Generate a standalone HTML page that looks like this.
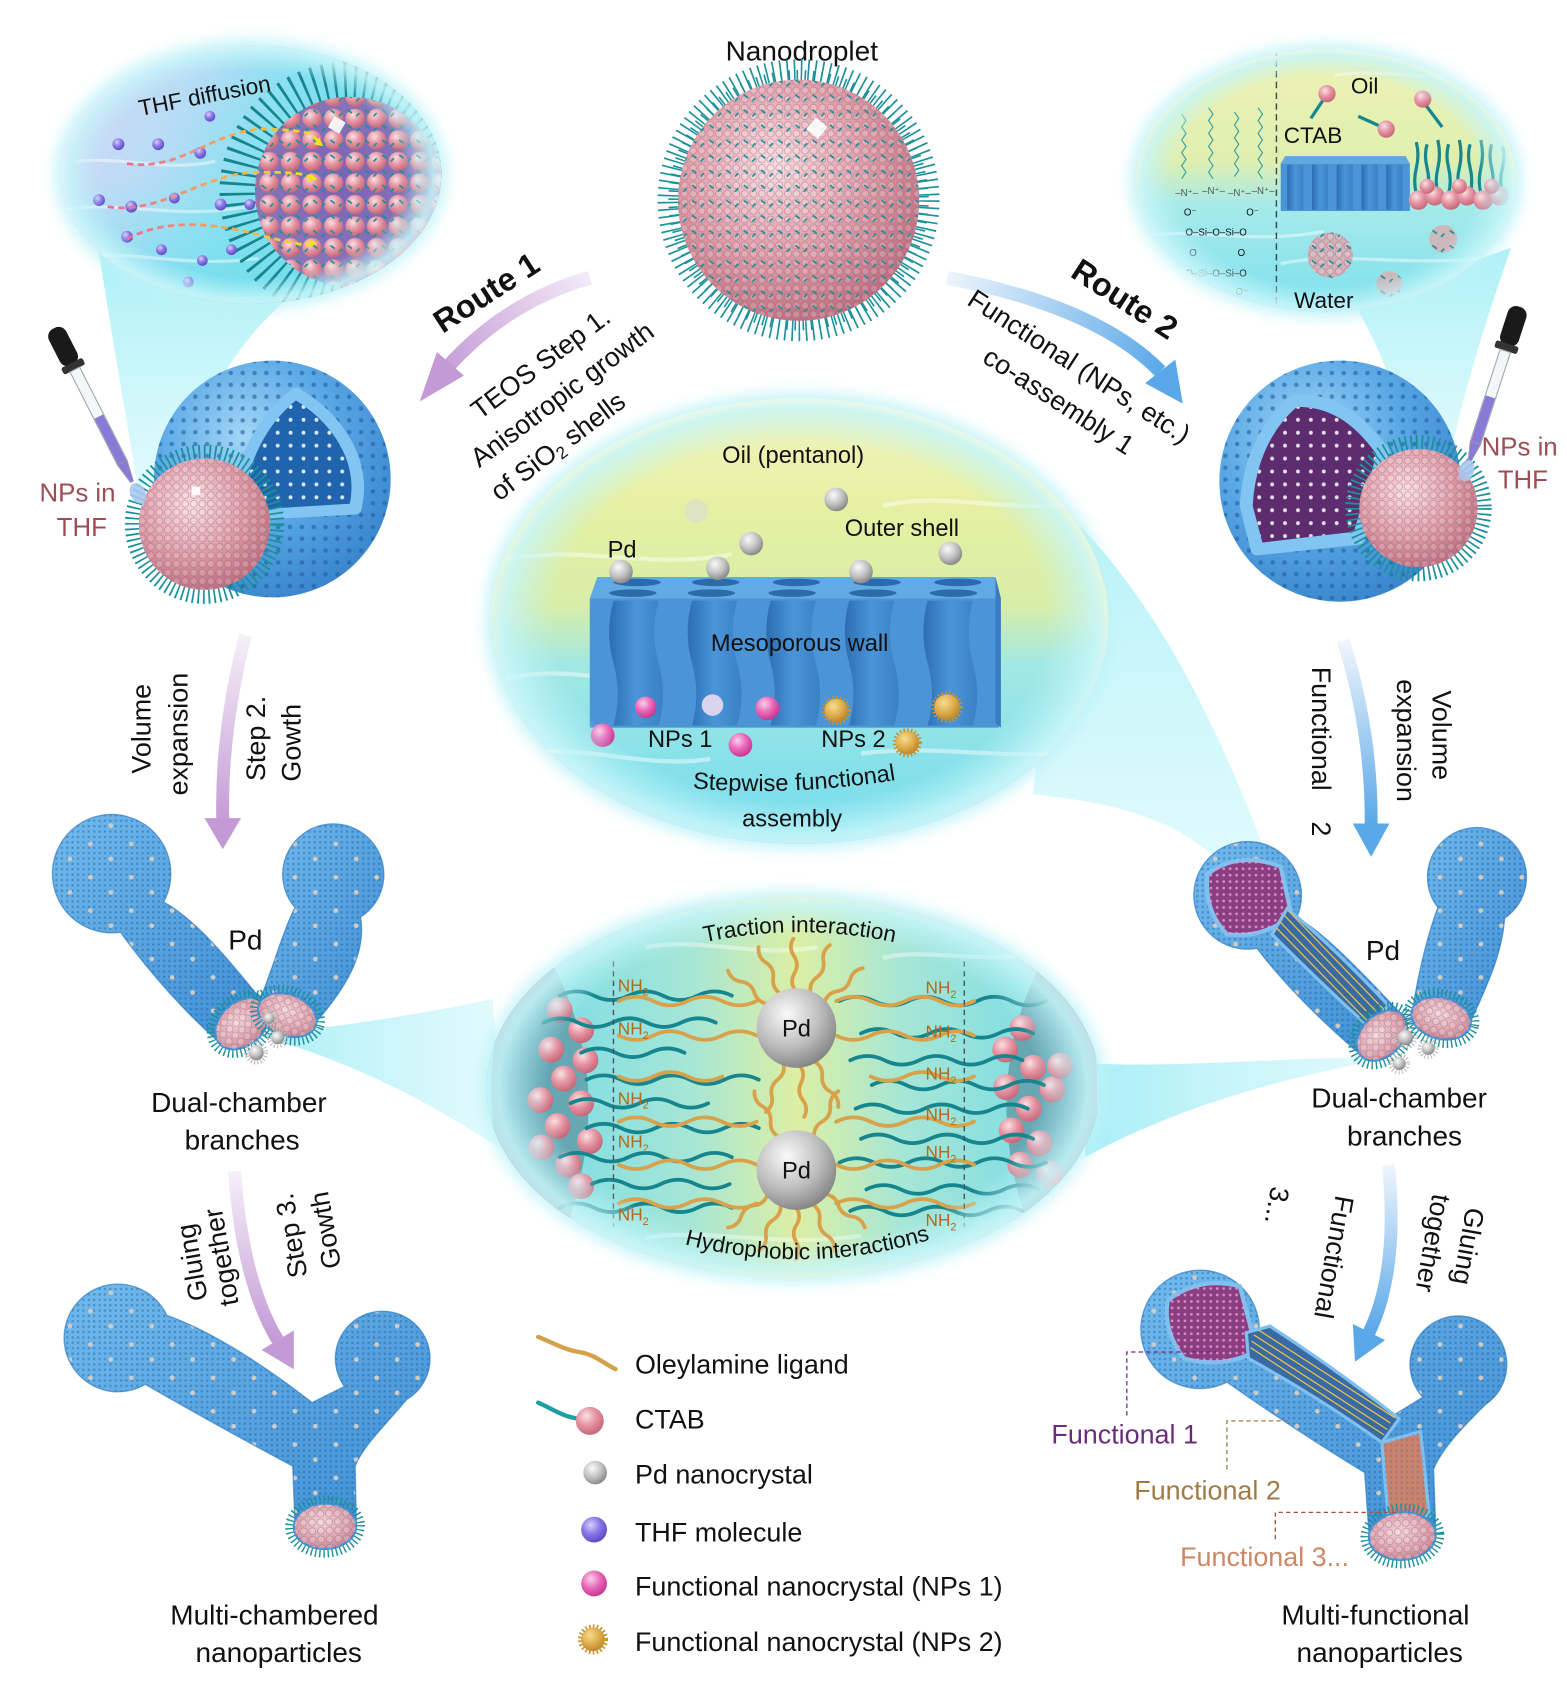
<!DOCTYPE html>
<html><head><meta charset="utf-8">
<style>
html,body{margin:0;padding:0;background:#fff;}
svg{display:block;}
text{font-family:"Liberation Sans",Arial,sans-serif;fill:#111;}
</style></head><body>
<svg width="1567" height="1690" viewBox="0 0 1456 1570" preserveAspectRatio="none" xmlns="http://www.w3.org/2000/svg">
<defs>
  <radialGradient id="pinkG" cx="0.4" cy="0.35" r="0.7">
    <stop offset="0" stop-color="#f6dde1"/><stop offset="0.55" stop-color="#dc9ca8"/><stop offset="1" stop-color="#b86b7c"/>
  </radialGradient>
  <radialGradient id="capG" cx="0.45" cy="0.4" r="0.7">
    <stop offset="0" stop-color="#f0d4da"/><stop offset="0.6" stop-color="#d9a2ae"/><stop offset="1" stop-color="#b97c8a"/>
  </radialGradient>
  <pattern id="pinkTex" width="8" height="8" patternUnits="userSpaceOnUse">
    <circle cx="4" cy="4" r="3.2" fill="#ffffff" fill-opacity="0.18" stroke="#a5566a" stroke-opacity="0.45" stroke-width="0.8"/>
  </pattern>
  <pattern id="tealSpeck" width="16" height="14" patternUnits="userSpaceOnUse">
    <path d="M3 4 l4 3 M11 10 l3 -3" stroke="#1f8f95" stroke-width="1.6" fill="none"/>
  </pattern>
  <radialGradient id="blueG" cx="0.38" cy="0.32" r="0.75">
    <stop offset="0" stop-color="#a2d6f6"/><stop offset="0.5" stop-color="#5aa8e6"/><stop offset="1" stop-color="#3782cb"/>
  </radialGradient>
  <linearGradient id="blueL" x1="0" y1="0" x2="1" y2="1">
    <stop offset="0" stop-color="#72baee"/><stop offset="1" stop-color="#3f8ed4"/>
  </linearGradient>
  <pattern id="pores" width="11" height="11" patternUnits="userSpaceOnUse">
    <circle cx="5.5" cy="5.5" r="2.1" fill="#1e5d9c" fill-opacity="0.6"/>
  </pattern>
  <pattern id="whitePores" width="12" height="12" patternUnits="userSpaceOnUse">
    <circle cx="6" cy="6" r="1.8" fill="#ffffff"/>
  </pattern>
  <pattern id="pinkPores" width="6" height="6" patternUnits="userSpaceOnUse">
    <circle cx="3" cy="3" r="1.3" fill="#e6a0d0" fill-opacity="0.8"/>
  </pattern>
  <pattern id="mesh" width="5" height="5" patternUnits="userSpaceOnUse">
    <rect x="1.5" y="1.5" width="2" height="2" fill="#1b568f" fill-opacity="0.45"/>
  </pattern>
  <pattern id="gdots" width="38" height="31" patternUnits="userSpaceOnUse">
    <circle cx="8" cy="9" r="2.2" fill="#d3cbc2"/><circle cx="27" cy="23" r="2.2" fill="#d3cbc2"/>
  </pattern>
  <pattern id="pballs" width="20" height="20" patternUnits="userSpaceOnUse">
    <circle cx="10" cy="10" r="9" fill="url(#ctabG)"/>
  </pattern>
  <radialGradient id="greyG" cx="0.38" cy="0.32" r="0.7">
    <stop offset="0" stop-color="#fafafa"/><stop offset="0.6" stop-color="#bdbdbd"/><stop offset="1" stop-color="#868686"/>
  </radialGradient>
  <radialGradient id="magG" cx="0.38" cy="0.32" r="0.7">
    <stop offset="0" stop-color="#fbd0ea"/><stop offset="0.5" stop-color="#ea6cbc"/><stop offset="1" stop-color="#c7348f"/>
  </radialGradient>
  <radialGradient id="purG" cx="0.38" cy="0.32" r="0.7">
    <stop offset="0" stop-color="#d8d0fb"/><stop offset="0.5" stop-color="#8a78e6"/><stop offset="1" stop-color="#5c48c4"/>
  </radialGradient>
  <radialGradient id="goldG" cx="0.38" cy="0.32" r="0.7">
    <stop offset="0" stop-color="#f6dc90"/><stop offset="0.6" stop-color="#dcaa48"/><stop offset="1" stop-color="#b8862c"/>
  </radialGradient>
  <radialGradient id="ctabG" cx="0.38" cy="0.32" r="0.7">
    <stop offset="0" stop-color="#fbe0e4"/><stop offset="0.5" stop-color="#e594a2"/><stop offset="1" stop-color="#c46778"/>
  </radialGradient>
  <radialGradient id="coreG" cx="0.45" cy="0.45" r="0.6">
    <stop offset="0" stop-color="#7a62b8"/><stop offset="1" stop-color="#8c7bb6"/>
  </radialGradient>
  <linearGradient id="tlG" x1="0" y1="0" x2="1" y2="0.3">
    <stop offset="0" stop-color="#dcd6f6"/><stop offset="0.35" stop-color="#b8dcf5"/><stop offset="0.6" stop-color="#86e0f0"/><stop offset="1" stop-color="#62d6ea"/>
  </linearGradient>
  <linearGradient id="cyanBottom" x1="0" y1="0" x2="0" y2="1">
    <stop offset="0.5" stop-color="#7fe3f0" stop-opacity="0"/><stop offset="1" stop-color="#6fdcec" stop-opacity="0.8"/>
  </linearGradient>
  <linearGradient id="trG" x1="0" y1="0" x2="0" y2="1">
    <stop offset="0" stop-color="#eef2b6"/><stop offset="0.42" stop-color="#e0efae"/><stop offset="0.58" stop-color="#a6eaea"/><stop offset="1" stop-color="#7adfee"/>
  </linearGradient>
  <linearGradient id="midG" x1="0" y1="0" x2="0" y2="1">
    <stop offset="0" stop-color="#f2f5c4"/><stop offset="0.25" stop-color="#e6f0a2"/><stop offset="0.47" stop-color="#d8eea8"/><stop offset="0.6" stop-color="#a2e8e4"/><stop offset="1" stop-color="#72dbee"/>
  </linearGradient>
  <linearGradient id="botG" x1="0" y1="0" x2="1" y2="0">
    <stop offset="0" stop-color="#6cd8ea"/><stop offset="0.33" stop-color="#a6e6d6"/><stop offset="0.5" stop-color="#dcefa4"/><stop offset="0.67" stop-color="#a6e6d6"/><stop offset="1" stop-color="#6cd8ea"/>
  </linearGradient>
  <radialGradient id="rim" cx="0.5" cy="0.5" r="0.5">
    <stop offset="0.8" stop-color="#bff3f8" stop-opacity="0"/>
    <stop offset="0.96" stop-color="#c8f6fa" stop-opacity="0.85"/>
    <stop offset="1" stop-color="#e6fbfd" stop-opacity="0.7"/>
  </radialGradient>
  <linearGradient id="coneG" x1="0" y1="0" x2="0" y2="1">
    <stop offset="0" stop-color="#9eeef6" stop-opacity="0.85"/><stop offset="1" stop-color="#c8f6fa" stop-opacity="0.55"/>
  </linearGradient>
  <linearGradient id="bandG" x1="0" y1="0" x2="1" y2="0">
    <stop offset="0" stop-color="#8fe9f4" stop-opacity="0.9"/><stop offset="1" stop-color="#c8f6fa" stop-opacity="0.6"/>
  </linearGradient>
  <linearGradient id="chanG" x1="0" y1="0" x2="1" y2="0">
    <stop offset="0" stop-color="#2d6db2"/><stop offset="0.5" stop-color="#4a95d8"/><stop offset="1" stop-color="#3a80c4"/>
  </linearGradient>
  <linearGradient id="r1G" gradientUnits="userSpaceOnUse" x1="550" y1="255" x2="410" y2="350">
    <stop offset="0" stop-color="#f4ecf8"/><stop offset="1" stop-color="#c49ad6"/>
  </linearGradient>
  <linearGradient id="r2G" gradientUnits="userSpaceOnUse" x1="880" y1="255" x2="1080" y2="345">
    <stop offset="0" stop-color="#eef5fc"/><stop offset="1" stop-color="#5aa8e8"/>
  </linearGradient>
  <linearGradient id="s2G" gradientUnits="userSpaceOnUse" x1="0" y1="590" x2="0" y2="765">
    <stop offset="0" stop-color="#f6f0f8"/><stop offset="1" stop-color="#c49ad6"/>
  </linearGradient>
  <linearGradient id="s2RG" gradientUnits="userSpaceOnUse" x1="0" y1="595" x2="0" y2="765">
    <stop offset="0" stop-color="#f0f6fc"/><stop offset="1" stop-color="#5aa8e8"/>
  </linearGradient>
  <linearGradient id="s3G" gradientUnits="userSpaceOnUse" x1="0" y1="1088" x2="0" y2="1245">
    <stop offset="0" stop-color="#f6f0f8"/><stop offset="1" stop-color="#c49ad6"/>
  </linearGradient>
  <linearGradient id="s3RG" gradientUnits="userSpaceOnUse" x1="0" y1="1082" x2="0" y2="1238">
    <stop offset="0" stop-color="#f0f6fc"/><stop offset="1" stop-color="#5aa8e8"/>
  </linearGradient>
  <linearGradient id="dashG" x1="0" y1="0" x2="1" y2="0">
    <stop offset="0" stop-color="#f06a9a"/><stop offset="1" stop-color="#f2e020"/>
  </linearGradient>
  <marker id="ya" markerWidth="8" markerHeight="8" refX="5" refY="4" orient="auto" markerUnits="userSpaceOnUse">
    <path d="M0 0 L8 4 L0 8 Z" fill="#f5e21a"/>
  </marker>
  <filter id="blur6" x="-20%" y="-20%" width="140%" height="140%"><feGaussianBlur stdDeviation="6"/></filter>
  <path id="lig" d="M35 0 q8 -5 16 0 t16 0 t16 0" fill="none" stroke="#d9a24a" stroke-width="3.5" stroke-linecap="round"/>

  <path id="pA" d="M152 838 C178 852 205 882 242 928 L200 965 C172 940 140 905 112 866 A55 55 0 1 1 152 838 Z"/>
  <path id="pB" d="M335 852 C340 882 326 912 295 948 L242 928 C255 895 262 868 274 843 A47 47 0 1 1 335 852 Z"/>
  <path id="pY" d="M155 1222 C200 1238 250 1272 290 1303 L320 1288 A44 44 0 1 1 378 1300 C360 1322 338 1342 330 1362 L331 1412 L274 1414 L272 1362 C240 1345 180 1312 135 1286 A50 50 0 1 1 155 1222 Z"/>
  <path id="pRA" d="M1205 852 C1232 868 1266 904 1300 940 L1262 978 C1232 952 1196 918 1168 881 A50 50 0 1 1 1205 852 Z"/>
  <path id="pRB" d="M1398 853 C1396 885 1382 915 1367 948 L1313 935 C1318 905 1326 870 1336 843 A46 46 0 1 1 1398 853 Z"/>
  <path id="pRY" d="M1165 1258 C1200 1275 1250 1305 1283 1322 L1322 1298 A45 45 0 1 1 1380 1305 C1360 1325 1340 1345 1332 1365 L1334 1420 L1272 1424 L1268 1368 C1230 1345 1180 1312 1140 1284 A55 55 0 1 1 1165 1258 Z"/>

  <ellipse id="cA" cx="0" cy="0" rx="28" ry="20"/>
  <clipPath id="tlClip"><ellipse cx="233" cy="162" rx="177" ry="120"/></clipPath>
  <clipPath id="trClip"><ellipse cx="1232" cy="168" rx="177" ry="122"/></clipPath>
  <clipPath id="midClip"><ellipse cx="743" cy="577" rx="287" ry="207"/></clipPath>
  <clipPath id="botClip"><ellipse cx="737" cy="1010" rx="285" ry="177"/></clipPath>
  <clipPath id="tlDrop"><circle cx="325" cy="178" r="88"/></clipPath>
</defs>

<rect width="1456" height="1570" fill="#ffffff"/>

<!-- ============ FUNNELS / CONES ============ -->
<path d="M92 235 C105 320 118 390 128 455 L172 432 C192 360 232 300 288 262 Z" fill="url(#coneG)"/>
<path d="M1258 282 C1288 332 1304 382 1310 432 L1346 432 C1360 362 1380 300 1404 230 Z" fill="url(#coneG)"/>
<path d="M985 470 C1080 560 1140 690 1192 836 L1168 842 C1120 770 1060 748 960 738 Z" fill="url(#coneG)" opacity="0.9"/>
<path d="M458 928 C380 945 300 955 240 962 C300 978 380 1010 466 1068 Z" fill="url(#bandG)" opacity="0.85"/>
<path d="M1012 988 C1100 992 1200 982 1294 982 C1200 1000 1100 1025 1008 1075 Z" fill="url(#bandG)" opacity="0.85"/>

<!-- ============ TOP-LEFT BUBBLE ============ -->
<ellipse cx="233" cy="162" rx="183" ry="126" fill="#bff3f8" filter="url(#blur6)" opacity="0.8"/>
<g clip-path="url(#tlClip)">
  <rect x="50" y="40" width="370" height="250" fill="url(#tlG)"/>
  <rect x="50" y="40" width="370" height="250" fill="url(#cyanBottom)"/>
  <g stroke="#ffffff" stroke-opacity="0.45" stroke-width="3" fill="none">
    <path d="M60 195 C110 185 160 205 230 192"/>
    <path d="M60 240 C120 230 170 250 240 240"/>
    <path d="M70 150 C120 145 150 160 200 150"/>
  </g>
  <circle cx="325" cy="178" r="104" fill="none" stroke="#17858d" stroke-width="34" stroke-dasharray="2.5 7"/>
  <circle cx="325" cy="178" r="88" fill="url(#coreG)"/>
  <g clip-path="url(#tlDrop)">
    <rect x="235" y="88" width="180" height="180" fill="url(#pballs)"/>
    <rect x="235" y="88" width="180" height="180" fill="url(#tealSpeck)"/>
  </g>
  <rect x="307" y="110" width="12" height="12" fill="#fff" transform="rotate(30 313 116)" opacity="0.9"/>
  <g>
    <circle cx="110" cy="134" r="5.5" fill="url(#purG)"/><circle cx="147" cy="134" r="5.5" fill="url(#purG)"/>
    <circle cx="186" cy="142" r="5.5" fill="url(#purG)"/><circle cx="92" cy="186" r="5.5" fill="url(#purG)"/>
    <circle cx="122" cy="192" r="5.5" fill="url(#purG)"/><circle cx="162" cy="184" r="5" fill="url(#purG)"/>
    <circle cx="205" cy="190" r="5.5" fill="url(#purG)"/><circle cx="232" cy="190" r="5" fill="url(#purG)"/>
    <circle cx="118" cy="220" r="5.5" fill="url(#purG)"/><circle cx="150" cy="232" r="5" fill="url(#purG)"/>
    <circle cx="188" cy="242" r="5" fill="url(#purG)"/><circle cx="215" cy="232" r="5" fill="url(#purG)"/>
    <circle cx="175" cy="262" r="5" fill="url(#purG)"/><circle cx="195" cy="108" r="5" fill="url(#purG)"/>
  </g>
  <g fill="none" stroke="url(#dashG)" stroke-width="2.6" stroke-dasharray="6 4" marker-end="url(#ya)">
    <path d="M118 152 C170 160 200 118 250 120 S288 126 298 134"/>
    <path d="M100 192 C150 200 190 160 240 160 S280 163 292 166"/>
    <path d="M118 222 C150 205 190 205 240 218 S280 226 292 226"/>
  </g>
  <ellipse cx="233" cy="162" rx="177" ry="120" fill="url(#rim)"/>
</g>
<text transform="translate(190,89) rotate(-11)" text-anchor="middle" y="7" font-size="21">THF diffusion</text>

<!-- ============ TOP-RIGHT BUBBLE ============ -->
<ellipse cx="1232" cy="168" rx="183" ry="128" fill="#bff3f8" filter="url(#blur6)" opacity="0.8"/>
<g clip-path="url(#trClip)">
  <rect x="1050" y="40" width="370" height="260" fill="url(#trG)"/>
  <g stroke="#ffffff" stroke-opacity="0.45" stroke-width="3" fill="none">
    <path d="M1060 220 C1110 210 1160 228 1230 215"/>
    <path d="M1190 245 C1250 232 1300 250 1400 238"/>
    <path d="M1240 70 C1290 62 1330 78 1390 70"/>
  </g>
  <g stroke="#3aa0a8" stroke-width="1.1" fill="none">
    <path d="M1098 106 l4 6 l-4 6 l4 6 l-4 6 l4 6 l-4 6 l4 6 l-4 6 l4 6 l-4 6"/>
    <path d="M1123 100 l4 6 l-4 6 l4 6 l-4 6 l4 6 l-4 6 l4 6 l-4 6 l4 6 l-4 6 l4 6"/>
    <path d="M1147 104 l4 6 l-4 6 l4 6 l-4 6 l4 6 l-4 6 l4 6 l-4 6 l4 6 l-4 6"/>
    <path d="M1169 100 l4 6 l-4 6 l4 6 l-4 6 l4 6 l-4 6 l4 6 l-4 6 l4 6 l-4 6 l4 6"/>
  </g>
  <g font-size="9" fill="#333">
    <text x="1092" y="182" style="fill:#555">–N⁺–</text><text x="1117" y="180" style="fill:#555">–N⁺–</text>
    <text x="1141" y="182" style="fill:#555">–N⁺–</text><text x="1163" y="180" style="fill:#555">–N⁺–</text>
    <text x="1100" y="200">O⁻</text><text x="1158" y="200">O⁻</text>
    <text x="1130" y="219" text-anchor="middle">O–Si–O–Si–O</text>
    <text x="1105" y="238">O</text><text x="1150" y="238">O</text>
    <text x="1130" y="257" text-anchor="middle">O–Si–O–Si–O</text>
    <text x="1103" y="274">O⁻</text><text x="1148" y="274">O⁻</text>
  </g>
  <line x1="1186" y1="46" x2="1186" y2="300" stroke="#3a4450" stroke-width="1.3" stroke-dasharray="6 4"/>
  <path d="M1190 152 L1194 145 L1306 145 L1310 152 Z" fill="#5fa8e2"/>
  <rect x="1190" y="152" width="120" height="44" fill="#4b94d6"/>
  <g fill="url(#chanG)">
    <rect x="1196" y="153" width="15" height="42"/><rect x="1219" y="153" width="15" height="42"/>
    <rect x="1242" y="153" width="15" height="42"/><rect x="1265" y="153" width="15" height="42"/>
    <rect x="1288" y="153" width="15" height="42"/>
  </g>
  <g stroke="#17878f" stroke-width="3" fill="none">
    <path d="M1316 180 q-3 -12 0 -24 t0 -24"/><path d="M1326 180 q3 -12 0 -24 t0 -22"/>
    <path d="M1336 180 q-3 -12 0 -24 t0 -26"/><path d="M1346 180 q3 -12 0 -24 t0 -22"/>
    <path d="M1356 180 q-3 -12 0 -24 t0 -26"/><path d="M1366 180 q3 -12 0 -24 t0 -22"/>
    <path d="M1376 180 q-3 -12 0 -24 t0 -26"/><path d="M1386 180 q3 -12 0 -24 t0 -22"/>
    <path d="M1396 180 q-3 -12 0 -24 t0 -20"/>
  </g>
  <g>
    <circle cx="1318" cy="186" r="9" fill="url(#ctabG)"/><circle cx="1333" cy="182" r="9" fill="url(#ctabG)"/>
    <circle cx="1348" cy="186" r="9" fill="url(#ctabG)"/><circle cx="1363" cy="182" r="9" fill="url(#ctabG)"/>
    <circle cx="1378" cy="186" r="9" fill="url(#ctabG)"/><circle cx="1393" cy="182" r="9" fill="url(#ctabG)"/>
    <circle cx="1326" cy="173" r="7" fill="url(#ctabG)"/><circle cx="1356" cy="173" r="7" fill="url(#ctabG)"/><circle cx="1386" cy="173" r="7" fill="url(#ctabG)"/>
  </g>
  <g stroke="#17878f" stroke-width="3" fill="none">
    <path d="M1218 110 L1230 92"/><path d="M1262 108 L1284 118"/><path d="M1325 98 L1340 118"/>
  </g>
  <circle cx="1233" cy="87" r="8" fill="url(#ctabG)"/><circle cx="1288" cy="120" r="8" fill="url(#ctabG)"/><circle cx="1322" cy="92" r="8" fill="url(#ctabG)"/>
  <g>
    <circle cx="1236" cy="237" r="21" fill="#d0b2ba"/><circle cx="1236" cy="237" r="21" fill="url(#pinkTex)"/><circle cx="1236" cy="237" r="21" fill="url(#tealSpeck)"/>
    <circle cx="1341" cy="222" r="13" fill="#cdb8bc"/><circle cx="1341" cy="222" r="13" fill="url(#tealSpeck)"/>
    <circle cx="1291" cy="264" r="12" fill="#cdb8bc"/><circle cx="1291" cy="264" r="12" fill="url(#tealSpeck)"/>
  </g>
  <ellipse cx="1232" cy="168" rx="177" ry="122" fill="url(#rim)"/>
</g>
<text x="1268" y="87" font-size="21" text-anchor="middle">Oil</text>
<text x="1220" y="133" font-size="21" text-anchor="middle">CTAB</text>
<text x="1230" y="286" font-size="21" text-anchor="middle">Water</text>

<!-- ============ NANODROPLET ============ -->
<text x="745" y="56" font-size="26" text-anchor="middle">Nanodroplet</text>
<circle cx="742" cy="186" r="121" fill="none" stroke="#1c9199" stroke-width="20" stroke-dasharray="1.5 5"/>
<circle cx="742" cy="186" r="116" fill="none" stroke="#1c9199" stroke-width="10" stroke-dasharray="1.5 6" stroke-dashoffset="3"/>
<circle cx="742" cy="186" r="112" fill="url(#pinkG)"/>
<circle cx="742" cy="186" r="112" fill="url(#pinkTex)"/>
<circle cx="742" cy="186" r="112" fill="url(#tealSpeck)"/>
<rect x="752" y="112" width="14" height="14" fill="#ffffff" opacity="0.9" transform="rotate(40 759 119)"/>

<!-- ============ LEFT SPHERE ============ -->
<circle cx="253" cy="445" r="110" fill="url(#blueG)"/>
<circle cx="253" cy="445" r="110" fill="url(#pores)"/>
<path d="M275 366 C245 390 225 425 218 478 L330 472 C340 430 315 390 275 366 Z" fill="#82c4f2" stroke="#82c4f2" stroke-width="12" stroke-linejoin="round"/>
<path d="M275 372 C248 394 230 428 224 474 L325 468 C333 430 310 394 275 372 Z" fill="#1f64ac"/>
<path d="M275 372 C248 394 230 428 224 474 L325 468 C333 430 310 394 275 372 Z" fill="url(#whitePores)" opacity="0.85"/>
<circle cx="190" cy="487" r="67" fill="none" stroke="#1c9199" stroke-width="14" stroke-dasharray="1.6 3.4"/>
<circle cx="190" cy="487" r="61" fill="url(#pinkG)"/>
<circle cx="190" cy="487" r="61" fill="url(#pinkTex)"/>
<rect x="178" y="452" width="8" height="8" fill="#fff" opacity="0.9"/>
<g transform="translate(50,305) rotate(-27)">
  <rect x="-9" y="0" width="18" height="38" rx="8" fill="#1a1a1a"/>
  <rect x="-11" y="36" width="22" height="7" rx="2" fill="#333"/>
  <rect x="-5" y="43" width="10" height="97" fill="#f4f6f8" stroke="#9aa" stroke-width="1"/>
  <rect x="-4.5" y="92" width="9" height="48" fill="#8a7ad8"/>
  <path d="M-5 140 L5 140 L1.5 160 L-1.5 160 Z" fill="#8a7ad8" stroke="#99a" stroke-width="0.8"/>
  <ellipse cx="0" cy="172" rx="7" ry="10" fill="#a9c8f0" opacity="0.9"/>
</g>
<text x="72" y="466" font-size="24" text-anchor="middle" style="fill:#9b4f55">NPs in</text>
<text x="76" y="498" font-size="24" text-anchor="middle" style="fill:#9b4f55">THF</text>

<!-- ============ RIGHT SPHERE ============ -->
<circle cx="1245" cy="447" r="112" fill="url(#blueG)"/>
<circle cx="1245" cy="447" r="112" fill="url(#pores)"/>
<path d="M1205 372 C1175 395 1160 430 1158 470 L1168 510 L1262 500 L1285 420 C1260 385 1235 372 1205 372 Z" fill="#82c4f2" stroke="#82c4f2" stroke-width="12" stroke-linejoin="round"/>
<path d="M1205 378 C1180 400 1166 432 1164 470 L1173 504 L1258 494 L1279 422 C1256 390 1233 378 1205 378 Z" fill="#5c2c6e"/>
<path d="M1205 378 C1180 400 1166 432 1164 470 L1173 504 L1258 494 L1279 422 C1256 390 1233 378 1205 378 Z" fill="url(#whitePores)" opacity="0.85"/>
<circle cx="1318" cy="472" r="61" fill="none" stroke="#1c9199" stroke-width="14" stroke-dasharray="1.6 3.4"/>
<circle cx="1318" cy="472" r="55" fill="url(#pinkG)"/>
<circle cx="1318" cy="472" r="55" fill="url(#pinkTex)"/>
<g transform="translate(1412,285) rotate(18)">
  <rect x="-9" y="0" width="18" height="38" rx="8" fill="#1a1a1a"/>
  <rect x="-11" y="36" width="22" height="7" rx="2" fill="#333"/>
  <rect x="-5" y="43" width="10" height="90" fill="#f4f6f8" stroke="#9aa" stroke-width="1"/>
  <rect x="-4.5" y="88" width="9" height="45" fill="#8a7ad8"/>
  <path d="M-5 133 L5 133 L1.5 150 L-1.5 150 Z" fill="#8a7ad8" stroke="#99a" stroke-width="0.8"/>
  <ellipse cx="0" cy="160" rx="7" ry="10" fill="#a9c8f0" opacity="0.9"/>
</g>
<text x="1412" y="423" font-size="24" text-anchor="middle" style="fill:#9b4f55">NPs in</text>
<text x="1415" y="454" font-size="24" text-anchor="middle" style="fill:#9b4f55">THF</text>

<!-- ============ MIDDLE OVAL ============ -->
<ellipse cx="743" cy="577" rx="293" ry="213" fill="#bff3f8" filter="url(#blur6)" opacity="0.8"/>
<g clip-path="url(#midClip)">
  <rect x="450" y="365" width="590" height="420" fill="url(#midG)"/>
  <g stroke="#ffffff" stroke-opacity="0.45" stroke-width="4" fill="none">
    <path d="M470 520 C540 505 600 530 680 515"/>
    <path d="M820 470 C880 455 940 480 1010 465"/>
    <path d="M470 630 C540 615 600 645 680 630"/>
    <path d="M800 700 C880 690 940 710 1020 695"/>
    <path d="M480 700 C540 690 600 715 660 705"/>
  </g>
  <path d="M548 556 L555 536 L925 536 L930 556 Z" fill="#62aae3"/>
  <g fill="#2c6aa8">
    <ellipse cx="592" cy="541" rx="22" ry="3.5"/><ellipse cx="665" cy="541" rx="22" ry="3.5"/><ellipse cx="740" cy="541" rx="22" ry="3.5"/><ellipse cx="815" cy="541" rx="22" ry="3.5"/><ellipse cx="890" cy="541" rx="22" ry="3.5"/>
    <ellipse cx="588" cy="551" rx="22" ry="3.5"/><ellipse cx="661" cy="551" rx="22" ry="3.5"/><ellipse cx="736" cy="551" rx="22" ry="3.5"/><ellipse cx="811" cy="551" rx="22" ry="3.5"/><ellipse cx="886" cy="551" rx="22" ry="3.5"/>
  </g>
  <rect x="548" y="556" width="380" height="120" fill="#4b94d6"/>
  <path d="M925 536 L930 556 L930 676 L925 672 Z" fill="#3a7cc0"/>
  <g fill="url(#chanG)">
    <path d="M570 558 Q562 587 570 616 T570 674 L612 674 Q620 645 612 616 T612 558 Z"/>
    <path d="M643 558 Q635 587 643 616 T643 674 L685 674 Q693 645 685 616 T685 558 Z"/>
    <path d="M716 558 Q708 587 716 616 T716 674 L758 674 Q766 645 758 616 T758 558 Z"/>
    <path d="M789 558 Q781 587 789 616 T789 674 L831 674 Q839 645 831 616 T831 558 Z"/>
    <path d="M862 558 Q854 587 862 616 T862 674 L904 674 Q912 645 904 616 T904 558 Z"/>
  </g>
  <circle cx="647" cy="475" r="11" fill="#dfe4c0"/>
  <circle cx="577" cy="531" r="11" fill="url(#greyG)"/><circle cx="667" cy="528" r="11" fill="url(#greyG)"/>
  <circle cx="698" cy="505" r="11" fill="url(#greyG)"/><circle cx="777" cy="464" r="11" fill="url(#greyG)"/>
  <circle cx="800" cy="531" r="11" fill="url(#greyG)"/><circle cx="883" cy="514" r="11" fill="url(#greyG)"/>
  <circle cx="600" cy="657" r="10" fill="url(#magG)"/><circle cx="560" cy="683" r="11" fill="url(#magG)"/>
  <circle cx="688" cy="692" r="11" fill="url(#magG)"/><circle cx="713" cy="658" r="11" fill="url(#magG)"/>
  <circle cx="662" cy="655" r="10" fill="#d8d4ee"/>
  <circle cx="777" cy="660" r="11" fill="url(#goldG)"/><circle cx="777" cy="660" r="12" fill="none" stroke="#c8922e" stroke-width="3" stroke-dasharray="1.5 2"/>
  <circle cx="880" cy="657" r="12" fill="url(#goldG)"/><circle cx="880" cy="657" r="13" fill="none" stroke="#c8922e" stroke-width="3" stroke-dasharray="1.5 2"/>
  <circle cx="843" cy="690" r="11" fill="url(#goldG)"/><circle cx="843" cy="690" r="12" fill="none" stroke="#c8922e" stroke-width="3" stroke-dasharray="1.5 2"/>
  <ellipse cx="743" cy="577" rx="287" ry="207" fill="url(#rim)"/>
</g>
<g font-size="22">
  <text x="737" y="430" text-anchor="middle">Oil (pentanol)</text>
  <text x="578" y="518" text-anchor="middle">Pd</text>
  <text x="838" y="498" text-anchor="middle">Outer shell</text>
  <text x="743" y="605" text-anchor="middle">Mesoporous wall</text>
  <text x="632" y="694" text-anchor="middle">NPs 1</text>
  <text x="793" y="694" text-anchor="middle">NPs 2</text>
  <path id="swPath" d="M628 731 Q736 742 848 722" fill="none"/>
  <text><textPath href="#swPath" startOffset="50%" text-anchor="middle">Stepwise functional</textPath></text>
  <text x="736" y="768" text-anchor="middle">assembly</text>
</g>

<!-- ============ BOTTOM OVAL ============ -->
<ellipse cx="737" cy="1010" rx="291" ry="183" fill="#bff3f8" filter="url(#blur6)" opacity="0.8"/>
<g clip-path="url(#botClip)">
  <rect x="450" y="830" width="580" height="360" fill="url(#botG)"/>
  <g stroke="#ffffff" stroke-opacity="0.4" stroke-width="4" fill="none">
    <path d="M600 880 C650 870 700 890 760 880"/>
    <path d="M600 1150 C660 1140 720 1160 800 1148"/>
    <path d="M820 890 C860 880 900 895 960 886"/>
  </g>
  <path d="M505 880 C545 950 565 1030 525 1145 L470 1110 C452 1040 452 980 470 925 Z" fill="#4f7a8c" opacity="0.55"/>
  <path d="M975 880 C935 950 918 1040 958 1145 L1008 1105 C1024 1040 1024 980 1006 925 Z" fill="#4f7a8c" opacity="0.55"/>
  <g>
    <circle cx="520" cy="938" r="12" fill="url(#ctabG)"/><circle cx="540" cy="957" r="12" fill="url(#ctabG)"/>
    <circle cx="512" cy="975" r="12" fill="url(#ctabG)"/><circle cx="544" cy="985" r="12" fill="url(#ctabG)"/>
    <circle cx="524" cy="1002" r="12" fill="url(#ctabG)"/><circle cx="502" cy="1022" r="12" fill="url(#ctabG)"/>
    <circle cx="540" cy="1025" r="12" fill="url(#ctabG)"/><circle cx="518" cy="1046" r="12" fill="url(#ctabG)"/>
    <circle cx="548" cy="1060" r="12" fill="url(#ctabG)"/><circle cx="503" cy="1066" r="12" fill="url(#ctabG)"/>
    <circle cx="528" cy="1082" r="12" fill="url(#ctabG)"/><circle cx="540" cy="1102" r="12" fill="url(#ctabG)"/>
    <circle cx="950" cy="955" r="12" fill="url(#ctabG)"/><circle cx="934" cy="975" r="12" fill="url(#ctabG)"/>
    <circle cx="960" cy="992" r="12" fill="url(#ctabG)"/><circle cx="935" cy="1010" r="12" fill="url(#ctabG)"/>
    <circle cx="956" cy="1030" r="12" fill="url(#ctabG)"/><circle cx="978" cy="1012" r="12" fill="url(#ctabG)"/>
    <circle cx="940" cy="1050" r="12" fill="url(#ctabG)"/><circle cx="966" cy="1062" r="12" fill="url(#ctabG)"/>
    <circle cx="948" cy="1082" r="12" fill="url(#ctabG)"/><circle cx="985" cy="990" r="12" fill="url(#ctabG)"/>
    <circle cx="975" cy="1090" r="12" fill="url(#ctabG)"/>
  </g>
  <g fill="none" stroke="#17858d" stroke-width="3.5" stroke-linecap="round">
    <path d="M470 900 C500 880 520 870 545 860"/>
    <path d="M1000 900 C980 880 960 870 940 860"/>
    <path d="M520 925 q16 -8 32 0 t32 0 t32 0 t32 0 t32 0"/>
    <path d="M505 950 q16 -8 32 0 t32 0 t32 0 t32 0 t32 0"/>
    <path d="M540 978 q16 -8 32 0 t32 0 t32 0"/>
    <path d="M545 1003 q16 -8 32 0 t32 0 t32 0 t32 0 t32 0"/>
    <path d="M530 1025 q16 -8 32 0 t32 0 t32 0 t32 0"/>
    <path d="M545 1048 q16 -8 32 0 t32 0 t32 0 t32 0 t32 0"/>
    <path d="M520 1075 q16 -8 32 0 t32 0 t32 0 t32 0 t32 0"/>
    <path d="M550 1100 q16 -8 32 0 t32 0 t32 0 t32 0"/>
    <path d="M520 1122 q16 -8 32 0 t32 0 t32 0 t32 0 t32 0"/>
    <path d="M780 930 q16 -8 32 0 t32 0 t32 0 t32 0 t32 0 t32 0"/>
    <path d="M800 960 q16 -8 32 0 t32 0 t32 0 t32 0 t32 0"/>
    <path d="M790 985 q16 -8 32 0 t32 0 t32 0 t32 0 t32 0"/>
    <path d="M810 1008 q16 -8 32 0 t32 0 t32 0 t32 0 t32 0"/>
    <path d="M795 1030 q16 -8 32 0 t32 0 t32 0 t32 0 t32 0"/>
    <path d="M800 1058 q16 -8 32 0 t32 0 t32 0 t32 0 t32 0"/>
    <path d="M780 1080 q16 -8 32 0 t32 0 t32 0 t32 0 t32 0 t32 0"/>
    <path d="M805 1105 q16 -8 32 0 t32 0 t32 0 t32 0 t32 0"/>
    <path d="M790 1125 q16 -8 32 0 t32 0 t32 0 t32 0 t32 0"/>
  </g>
  <g fill="none" stroke="#d9a24a" stroke-width="3.5" stroke-linecap="round">
    <path d="M575 930 q16 -8 32 0 t32 0 t32 0 t32 0"/>
    <path d="M575 962 q16 8 32 0 t32 0 t32 0 t32 0"/>
    <path d="M575 1000 q16 8 32 0 t32 0 t32 0"/>
    <path d="M575 1042 q16 -8 32 0 t32 0 t32 0 t32 0"/>
    <path d="M575 1082 q16 8 32 0 t32 0 t32 0 t32 0"/>
    <path d="M575 1118 q16 -8 32 0 t32 0 t32 0 t32 0"/>
    <path d="M777 930 q16 -8 32 0 t32 0 t32 0 t32 0"/>
    <path d="M777 962 q16 8 32 0 t32 0 t32 0 t32 0"/>
    <path d="M809 1000 q16 8 32 0 t32 0 t32 0"/>
    <path d="M777 1042 q16 -8 32 0 t32 0 t32 0 t32 0"/>
    <path d="M777 1082 q16 8 32 0 t32 0 t32 0 t32 0"/>
    <path d="M777 1118 q16 -8 32 0 t32 0 t32 0 t32 0"/>
  </g>
  <g>
    <use href="#lig" transform="translate(740,955) rotate(-140)"/>
    <use href="#lig" transform="translate(740,955) rotate(-115)"/>
    <use href="#lig" transform="translate(740,955) rotate(-92)"/>
    <use href="#lig" transform="translate(740,955) rotate(-68)"/>
    <use href="#lig" transform="translate(740,955) rotate(-42)"/>
    <use href="#lig" transform="translate(740,955) rotate(62)"/>
    <use href="#lig" transform="translate(740,955) rotate(85)"/>
    <use href="#lig" transform="translate(740,955) rotate(110)"/>
    <use href="#lig" transform="translate(740,1087) rotate(40)"/>
    <use href="#lig" transform="translate(740,1087) rotate(65)"/>
    <use href="#lig" transform="translate(740,1087) rotate(90)"/>
    <use href="#lig" transform="translate(740,1087) rotate(115)"/>
    <use href="#lig" transform="translate(740,1087) rotate(140)"/>
    <use href="#lig" transform="translate(740,1087) rotate(-62)"/>
    <use href="#lig" transform="translate(740,1087) rotate(-118)"/>
  </g>
  <line x1="570" y1="893" x2="570" y2="1140" stroke="#445066" stroke-width="1.3" stroke-dasharray="5 4"/>
  <line x1="896" y1="893" x2="896" y2="1140" stroke="#445066" stroke-width="1.3" stroke-dasharray="5 4"/>
  <circle cx="740" cy="955" r="37" fill="url(#greyG)"/>
  <circle cx="740" cy="1087" r="37" fill="url(#greyG)"/>
  <ellipse cx="737" cy="1010" rx="285" ry="177" fill="url(#rim)"/>
</g>
<text x="740" y="963" font-size="22" text-anchor="middle">Pd</text>
<text x="740" y="1095" font-size="22" text-anchor="middle">Pd</text>
<g font-size="16" style="fill:#b06a1a">
  <text x="574" y="921" style="fill:#b06a1a">NH<tspan font-size="10" dy="4">2</tspan></text>
  <text x="574" y="961" style="fill:#b06a1a">NH<tspan font-size="10" dy="4">2</tspan></text>
  <text x="574" y="1026" style="fill:#b06a1a">NH<tspan font-size="10" dy="4">2</tspan></text>
  <text x="574" y="1066" style="fill:#b06a1a">NH<tspan font-size="10" dy="4">2</tspan></text>
  <text x="574" y="1134" style="fill:#b06a1a">NH<tspan font-size="10" dy="4">2</tspan></text>
  <text x="860" y="923" style="fill:#b06a1a">NH<tspan font-size="10" dy="4">2</tspan></text>
  <text x="860" y="964" style="fill:#b06a1a">NH<tspan font-size="10" dy="4">2</tspan></text>
  <text x="860" y="1003" style="fill:#b06a1a">NH<tspan font-size="10" dy="4">2</tspan></text>
  <text x="860" y="1041" style="fill:#b06a1a">NH<tspan font-size="10" dy="4">2</tspan></text>
  <text x="860" y="1076" style="fill:#b06a1a">NH<tspan font-size="10" dy="4">2</tspan></text>
  <text x="860" y="1139" style="fill:#b06a1a">NH<tspan font-size="10" dy="4">2</tspan></text>
</g>
<path id="trPath" d="M628 882 Q742 850 858 882" fill="none"/>
<text font-size="21"><textPath href="#trPath" startOffset="50%" text-anchor="middle">Traction interaction</textPath></text>
<path id="hyPath" d="M615 1150 Q750 1192 885 1145" fill="none"/>
<text font-size="21"><textPath href="#hyPath" startOffset="50%" text-anchor="middle">Hydrophobic interactions</textPath></text>

<!-- ============ ARROWS ============ -->
<path d="M548 258 Q470 280 414 343" fill="none" stroke="url(#r1G)" stroke-width="13"/>
<polygon points="390,373 431,349 406,327" fill="#c49ad6"/>
<path d="M880 258 Q1020 285 1078 345" fill="none" stroke="url(#r2G)" stroke-width="13"/>
<polygon points="1099,375 1092,334 1064,356" fill="#5aa8e8"/>
<path d="M228 590 Q205 680 207 762" fill="none" stroke="url(#s2G)" stroke-width="12"/>
<polygon points="190,760 224,760 207,789" fill="#c49ad6"/>
<path d="M1248 595 Q1275 680 1274 767" fill="none" stroke="url(#s2RG)" stroke-width="12"/>
<polygon points="1257,765 1291,765 1274,796" fill="#5aa8e8"/>
<path d="M218 1088 Q225 1190 258 1245" fill="none" stroke="url(#s3G)" stroke-width="12"/>
<polygon points="273,1272 273,1236 243,1254" fill="#c49ad6"/>
<path d="M1290 1082 Q1300 1180 1272 1238" fill="none" stroke="url(#s3RG)" stroke-width="12"/>
<polygon points="1259,1265 1287,1245 1257,1230" fill="#5aa8e8"/>

<!-- ============ PARTICLES ============ -->
<g fill="url(#blueL)"><use href="#pA"/><use href="#pB"/><use href="#pY"/><use href="#pRA"/><use href="#pRB"/><use href="#pRY"/></g>
<g fill="url(#mesh)"><use href="#pA"/><use href="#pB"/><use href="#pY"/><use href="#pRA"/><use href="#pRB"/><use href="#pRY"/></g>
<g fill="url(#gdots)"><use href="#pA"/><use href="#pB"/><use href="#pY"/><use href="#pRA"/><use href="#pRB"/><use href="#pRY"/></g>
<g fill="none" stroke="#2f7cc4" stroke-width="1.2" opacity="0.7"><use href="#pA"/><use href="#pB"/><use href="#pY"/><use href="#pRA"/><use href="#pRB"/><use href="#pRY"/></g>

<!-- right dual-chamber A cutaway -->
<path d="M1122 812 Q1150 790 1190 805 L1200 850 Q1175 872 1140 868 Q1118 845 1122 812 Z" fill="#8a3d80" stroke="#7fc0f0" stroke-width="4"/>
<path d="M1122 812 Q1150 790 1190 805 L1200 850 Q1175 872 1140 868 Q1118 845 1122 812 Z" fill="url(#pinkPores)"/>
<path d="M1196 844 C1225 868 1258 900 1290 934 L1272 954 C1240 925 1210 896 1182 868 Z" fill="#3a6aa4" stroke="#7fc0f0" stroke-width="3"/>
<g stroke="#e2c24e" stroke-width="1.2">
  <line x1="1193" y1="850" x2="1282" y2="943"/><line x1="1189" y1="856" x2="1278" y2="948"/>
  <line x1="1186" y1="862" x2="1274" y2="952"/><line x1="1197" y1="846" x2="1286" y2="938"/>
</g>

<!-- right Y cutaway -->
<path d="M1085 1208 Q1115 1185 1152 1195 L1168 1255 Q1135 1272 1100 1262 Q1080 1235 1085 1208 Z" fill="#8a3d80" stroke="#7fc0f0" stroke-width="4"/>
<path d="M1085 1208 Q1115 1185 1152 1195 L1168 1255 Q1135 1272 1100 1262 Q1080 1235 1085 1208 Z" fill="url(#pinkPores)"/>
<path d="M1158 1238 L1180 1232 C1220 1258 1262 1288 1300 1318 L1284 1340 C1242 1310 1200 1284 1160 1262 Z" fill="#3a6aa4" stroke="#7fc0f0" stroke-width="3"/>
<g stroke="#e2c24e" stroke-width="1.2">
  <line x1="1165" y1="1240" x2="1292" y2="1322"/><line x1="1163" y1="1246" x2="1289" y2="1328"/>
  <line x1="1162" y1="1252" x2="1286" y2="1333"/><line x1="1170" y1="1236" x2="1296" y2="1317"/>
</g>
<path d="M1284 1340 L1320 1330 L1328 1408 L1290 1412 Z" fill="#c8826e" stroke="#7fc0f0" stroke-width="3"/>
<path d="M1284 1340 L1320 1330 L1328 1408 L1290 1412 Z" fill="url(#mesh)" opacity="0.5"/>

<!-- caps (pink domes at openings) -->
<g>
  <g transform="translate(225,951) rotate(-41)">
    <ellipse rx="32" ry="24" fill="none" stroke="#1c9199" stroke-width="8" stroke-dasharray="1.3 2.6"/>
    <ellipse rx="28" ry="20" fill="url(#capG)" stroke="#3f8ed4" stroke-width="2"/><ellipse rx="28" ry="20" fill="url(#pinkTex)"/>
  </g>
  <g transform="translate(267,943) rotate(21)">
    <ellipse rx="32" ry="23" fill="none" stroke="#1c9199" stroke-width="8" stroke-dasharray="1.3 2.6"/>
    <ellipse rx="28" ry="19" fill="url(#capG)" stroke="#3f8ed4" stroke-width="2"/><ellipse rx="28" ry="19" fill="url(#pinkTex)"/>
  </g>
  <g transform="translate(302,1418) rotate(-2)">
    <ellipse rx="33" ry="25" fill="none" stroke="#1c9199" stroke-width="8" stroke-dasharray="1.3 2.6"/>
    <ellipse rx="29" ry="21" fill="url(#capG)" stroke="#3f8ed4" stroke-width="2"/><ellipse rx="29" ry="21" fill="url(#pinkTex)"/>
  </g>
  <g transform="translate(1284,962) rotate(-45)">
    <ellipse rx="31" ry="23" fill="none" stroke="#1c9199" stroke-width="8" stroke-dasharray="1.3 2.6"/>
    <ellipse rx="27" ry="19" fill="url(#capG)" stroke="#3f8ed4" stroke-width="2"/><ellipse rx="27" ry="19" fill="url(#pinkTex)"/>
  </g>
  <g transform="translate(1339,946) rotate(14)">
    <ellipse rx="32" ry="23" fill="none" stroke="#1c9199" stroke-width="8" stroke-dasharray="1.3 2.6"/>
    <ellipse rx="28" ry="19" fill="url(#capG)" stroke="#3f8ed4" stroke-width="2"/><ellipse rx="28" ry="19" fill="url(#pinkTex)"/>
  </g>
  <g transform="translate(1303,1427) rotate(-4)">
    <ellipse rx="35" ry="26" fill="none" stroke="#1c9199" stroke-width="8" stroke-dasharray="1.3 2.6"/>
    <ellipse rx="31" ry="22" fill="url(#capG)" stroke="#3f8ed4" stroke-width="2"/><ellipse rx="31" ry="22" fill="url(#pinkTex)"/>
  </g>
</g>

<g>
  <circle cx="238" cy="978" r="9" fill="none" stroke="#bdbdbd" stroke-width="4" stroke-dasharray="1 2"/><circle cx="238" cy="978" r="7" fill="url(#greyG)"/>
  <circle cx="258" cy="964" r="8" fill="none" stroke="#bdbdbd" stroke-width="4" stroke-dasharray="1 2"/><circle cx="258" cy="964" r="6" fill="url(#greyG)"/>
  <circle cx="250" cy="946" r="7" fill="none" stroke="#bdbdbd" stroke-width="4" stroke-dasharray="1 2"/><circle cx="250" cy="946" r="5" fill="url(#greyG)"/>
  <circle cx="1306" cy="964" r="9" fill="none" stroke="#bdbdbd" stroke-width="4" stroke-dasharray="1 2"/><circle cx="1306" cy="964" r="7" fill="url(#greyG)"/>
  <circle cx="1327" cy="974" r="8" fill="none" stroke="#bdbdbd" stroke-width="4" stroke-dasharray="1 2"/><circle cx="1327" cy="974" r="6" fill="url(#greyG)"/>
  <circle cx="1300" cy="988" r="8" fill="none" stroke="#bdbdbd" stroke-width="4" stroke-dasharray="1 2"/><circle cx="1300" cy="988" r="6" fill="url(#greyG)"/>
</g>

<!-- leaders -->
<path d="M1047 1315 L1047 1256 L1130 1256" fill="none" stroke="#6b2c80" stroke-width="1.2" stroke-dasharray="4 3"/>
<path d="M1140 1365 L1140 1320 L1200 1320" fill="none" stroke="#a07a45" stroke-width="1.2" stroke-dasharray="4 3"/>
<path d="M1185 1430 L1185 1405 L1300 1405" fill="none" stroke="#a5533a" stroke-width="1.2" stroke-dasharray="4 3"/>
<text x="1045" y="1341" font-size="25" text-anchor="middle" style="fill:#6b2c80">Functional 1</text>
<text x="1122" y="1393" font-size="25" text-anchor="middle" style="fill:#a07a45">Functional 2</text>
<text x="1175" y="1455" font-size="25" text-anchor="middle" style="fill:#cc8866">Functional 3...</text>

<!-- ============ ARROW LABELS ============ -->
<text transform="translate(452,272) rotate(-33)" y="10" font-size="30" font-weight="bold" text-anchor="middle">Route 1</text>
<g font-size="25">
  <text transform="translate(502,337) rotate(-37)" y="9" text-anchor="middle">TEOS Step 1.</text>
  <text transform="translate(522,366) rotate(-37)" y="9" text-anchor="middle">Anisotropic growth</text>
  <text transform="translate(518,414) rotate(-37)" y="9" text-anchor="middle">of SiO<tspan font-size="16" dy="4">2</tspan><tspan dy="-4"> shells</tspan></text>
</g>
<text transform="translate(1045,278) rotate(33)" y="10" font-size="30" font-weight="bold" text-anchor="middle">Route 2</text>
<g font-size="25">
  <text transform="translate(1003,340) rotate(33)" y="9" text-anchor="middle">Functional (NPs, etc.)</text>
  <text transform="translate(984,372) rotate(33)" y="9" text-anchor="middle">co-assembly 1</text>
</g>
<g font-size="25">
  <text transform="translate(131,677) rotate(-90)" y="9" text-anchor="middle">Volume</text>
  <text transform="translate(165,682) rotate(-90)" y="9" text-anchor="middle">expansion</text>
  <text transform="translate(237,686) rotate(-90)" y="9" text-anchor="middle">Step 2.</text>
  <text transform="translate(270,690) rotate(-90)" y="9" text-anchor="middle">Gowth</text>
  <text transform="translate(1228,677) rotate(90)" y="9" text-anchor="middle">Functional</text>
  <text transform="translate(1228,770) rotate(90)" y="9" text-anchor="middle">2</text>
  <text transform="translate(1340,683) rotate(90)" y="9" text-anchor="middle">Volume</text>
  <text transform="translate(1307,688) rotate(90)" y="9" text-anchor="middle">expansion</text>
  <text transform="translate(178,1173) rotate(-100)" y="9" text-anchor="middle">Gluing</text>
  <text transform="translate(205,1168) rotate(-100)" y="9" text-anchor="middle">together</text>
  <text transform="translate(270,1148) rotate(-100)" y="9" text-anchor="middle">Step 3.</text>
  <text transform="translate(302,1143) rotate(-100)" y="9" text-anchor="middle">Gowth</text>
  <text transform="translate(1365,1158) rotate(100)" y="9" text-anchor="middle">Gluing</text>
  <text transform="translate(1332,1155) rotate(100)" y="9" text-anchor="middle">together</text>
  <text transform="translate(1240,1168) rotate(100)" y="9" text-anchor="middle">Functional</text>
  <text transform="translate(1187,1120) rotate(100)" y="9" text-anchor="middle">3...</text>
</g>

<!-- ============ TITLES ============ -->
<g font-size="26">
  <text x="228" y="882" text-anchor="middle">Pd</text>
  <text x="1285" y="892" text-anchor="middle">Pd</text>
  <text x="222" y="1033" text-anchor="middle">Dual-chamber</text>
  <text x="225" y="1068" text-anchor="middle">branches</text>
  <text x="1300" y="1029" text-anchor="middle">Dual-chamber</text>
  <text x="1305" y="1064" text-anchor="middle">branches</text>
  <text x="255" y="1509" text-anchor="middle">Multi-chambered</text>
  <text x="259" y="1544" text-anchor="middle">nanoparticles</text>
  <text x="1278" y="1509" text-anchor="middle">Multi-functional</text>
  <text x="1282" y="1544" text-anchor="middle">nanoparticles</text>
</g>

<!-- ============ LEGEND ============ -->
<path d="M500 1242 C515 1248 525 1254 538 1256 C552 1258 560 1266 572 1272" fill="none" stroke="#d4a04a" stroke-width="4" stroke-linecap="round"/>
<path d="M500 1303 C512 1308 522 1316 538 1318" fill="none" stroke="#1f9ea5" stroke-width="4" stroke-linecap="round"/>
<circle cx="548" cy="1320" r="13" fill="url(#ctabG)"/>
<circle cx="553" cy="1368" r="11" fill="url(#greyG)"/>
<circle cx="552" cy="1421" r="12" fill="url(#purG)"/>
<circle cx="552" cy="1471" r="12" fill="url(#magG)"/>
<circle cx="551" cy="1523" r="11" fill="url(#goldG)"/>
<circle cx="551" cy="1523" r="12" fill="none" stroke="#c8922e" stroke-width="4" stroke-dasharray="1.5 2"/>
<g font-size="25">
  <text x="590" y="1276">Oleylamine ligand</text>
  <text x="590" y="1327">CTAB</text>
  <text x="590" y="1378">Pd nanocrystal</text>
  <text x="590" y="1432">THF molecule</text>
  <text x="590" y="1482">Functional nanocrystal (NPs 1)</text>
  <text x="590" y="1534">Functional nanocrystal (NPs 2)</text>
</g>
</svg>
</body></html>
